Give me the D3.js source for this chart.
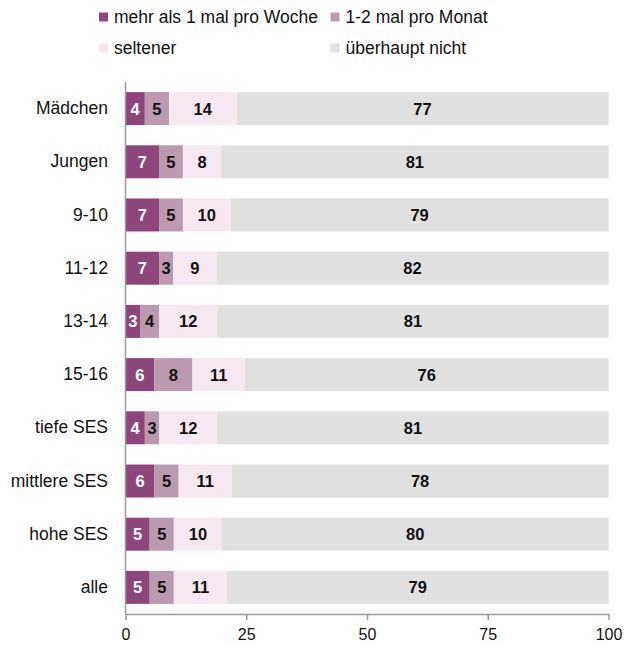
<!DOCTYPE html>
<html><head><meta charset="utf-8">
<script src="https://cdn.jsdelivr.net/npm/d3@7"></script>
<style>body{margin:0;background:#fff;} svg{font-family:"Liberation Sans",Arial,sans-serif;}</style>
</head><body>
<script>
const categories = ["Mädchen","Jungen","9-10","11-12","13-14","15-16","tiefe SES","mittlere SES","hohe SES","alle"];
const seriesNames = ["mehr als 1 mal pro Woche","1-2 mal pro Monat","seltener","überhaupt nicht"];
const mehrAls1 = [4,7,7,7,3,6,4,6,5,5];
const monat12 = [5,5,5,3,4,8,3,5,5,5];
const seltener = [14,8,10,9,12,11,12,11,10,11];
const ueberhaupt = [77,81,79,82,81,76,81,78,80,79];
const xTicks = [0,25,50,75,100];
const colors = ["#8E4579","#B99AAE","#F6E8F0","#E0E0E0"];
const textColors = ["#ffffff","#111111","#111111","#111111"];

const W=635,H=646;
const svg=d3.select("body").append("svg").attr("width",W).attr("height",H);
const x=d3.scaleLinear().domain([0,100]).range([125.5,608.5]);
const y=d3.scaleBand().domain(categories).range([82,614]).paddingInner(0.38).paddingOuter(0.19);

const series=[mehrAls1,monat12,seltener,ueberhaupt];
const rows=categories.map((c,i)=>{
  const vals=series.map(s=>s[i]);
  const tot=d3.sum(vals);
  let cum=0;
  return vals.map((v,k)=>{const s=cum/tot*100; cum+=v; return {cat:c,k,v,x0:s,x1:cum/tot*100};});
});

const g=svg.append("g");
rows.forEach(r=>{
  r.forEach(d=>{
    g.append("rect").attr("x",x(d.x0)).attr("y",y(d.cat)).attr("width",x(d.x1)-x(d.x0)).attr("height",y.bandwidth()).attr("fill",colors[d.k]);
    g.append("text").attr("x",(x(d.x0)+x(d.x1))/2).attr("y",y(d.cat)+y.bandwidth()/2).attr("dy","0.36em")
      .attr("text-anchor","middle").attr("font-size",16.5).attr("font-weight","bold").attr("fill",textColors[d.k]).text(d.v);
  });
});

// y axis
const ya=svg.append("g").attr("transform",`translate(${x(0)},0)`).call(d3.axisLeft(y).tickSize(0).tickPadding(17.5));
ya.select(".domain").attr("stroke","#999").attr("stroke-width",1.5).attr("d",`M0,82V614`);
ya.selectAll("text").attr("font-size",17.5).attr("fill","#111").attr("font-family","Liberation Sans, Arial, sans-serif");

// x axis
const xa=svg.append("g").attr("transform","translate(0,614)").call(d3.axisBottom(x).tickValues(xTicks).tickSize(6).tickSizeOuter(0).tickPadding(9));
xa.select(".domain").attr("stroke","#999").attr("stroke-width",1.5);
xa.selectAll(".tick line").attr("stroke","#999").attr("stroke-width",1.5);
xa.selectAll("text").attr("font-size",16).attr("fill","#111").attr("font-family","Liberation Sans, Arial, sans-serif");

// legend
const legPos=[[99,17],[330.5,17],[99,48],[330.5,48]];
seriesNames.forEach((n,i)=>{
  const [lx,ly]=legPos[i];
  svg.append("rect").attr("x",lx).attr("y",ly-4.5).attr("width",9).attr("height",9).attr("fill",colors[i]);
  svg.append("text").attr("x",lx+15).attr("y",ly).attr("dy","0.36em").attr("font-size",17.5).attr("fill","#111").text(n);
});
</script>
</body></html>
